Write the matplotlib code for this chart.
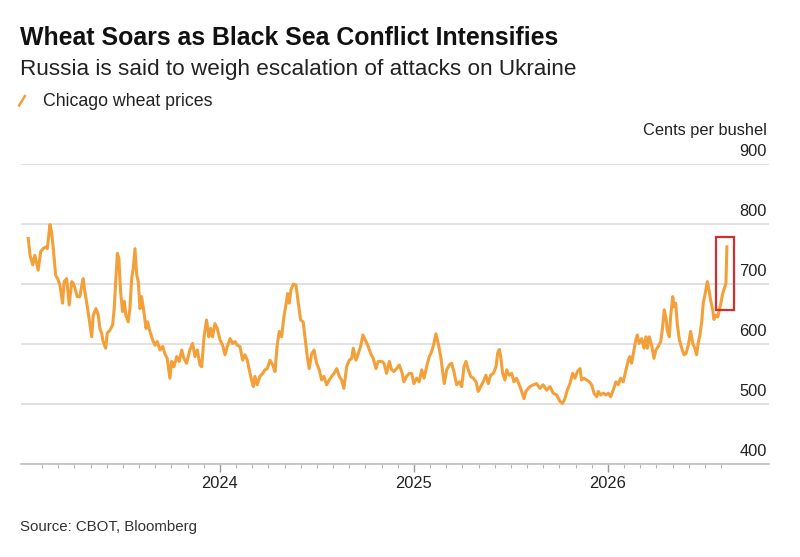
import matplotlib
matplotlib.use("Agg")
import matplotlib.pyplot as plt
from matplotlib.patches import Rectangle
from matplotlib.lines import Line2D
from matplotlib.transforms import blended_transform_factory, offset_copy

# ---- data (decimal year, cents per bushel) ----
d23 = [2023.012, 2023.021, 2023.035, 2023.046, 2023.063, 2023.076, 2023.089, 2023.103, 2023.110, 2023.124,
       2023.132, 2023.141, 2023.153, 2023.166, 2023.175, 2023.189, 2023.197, 2023.210, 2023.223, 2023.236,
       2023.244, 2023.253, 2023.264, 2023.278, 2023.287, 2023.295, 2023.304, 2023.318, 2023.330, 2023.339,
       2023.347, 2023.361, 2023.373, 2023.381, 2023.390, 2023.398, 2023.411, 2023.419, 2023.433, 2023.447,
       2023.455, 2023.464, 2023.471, 2023.479, 2023.488, 2023.498, 2023.507, 2023.515, 2023.527, 2023.536,
       2023.545, 2023.553, 2023.562, 2023.571, 2023.579, 2023.588, 2023.596, 2023.608, 2023.619, 2023.627,
       2023.639, 2023.653, 2023.665, 2023.677, 2023.691, 2023.705, 2023.716, 2023.728, 2023.742, 2023.751,
       2023.763, 2023.777, 2023.790, 2023.803, 2023.814, 2023.828, 2023.845, 2023.859, 2023.871, 2023.883,
       2023.897, 2023.906, 2023.918, 2023.931, 2023.943, 2023.952, 2023.962, 2023.974, 2023.986]
p23 = [776, 748, 732, 748, 723, 754, 759, 762, 759, 799,
       787, 759, 715, 707, 698, 668, 704, 709, 665, 704,
       701, 693, 679, 679, 696, 709, 687, 659, 632, 612,
       648, 659, 648, 626, 618, 604, 593, 618, 623, 632,
       659, 709, 751, 743, 687, 654, 671, 648, 637, 659,
       709, 726, 759, 715, 704, 659, 679, 654, 626, 637,
       621, 607, 598, 604, 590, 596, 584, 576, 543, 571,
       562, 579, 571, 590, 576, 568, 590, 601, 579, 590,
       565, 562, 612, 640, 612, 626, 612, 634, 626]

d24 = [2024.000, 2024.014, 2024.026, 2024.038, 2024.052, 2024.065, 2024.077, 2024.089, 2024.103, 2024.117,
       2024.129, 2024.141, 2024.151, 2024.163, 2024.172, 2024.180, 2024.192, 2024.206, 2024.220, 2024.232,
       2024.244, 2024.258, 2024.272, 2024.284, 2024.295, 2024.306, 2024.318, 2024.330, 2024.340, 2024.349,
       2024.357, 2024.366, 2024.378, 2024.392, 2024.404, 2024.416, 2024.429, 2024.438, 2024.450, 2024.460,
       2024.473, 2024.485, 2024.498, 2024.512, 2024.524, 2024.536, 2024.550, 2024.563, 2024.576, 2024.588,
       2024.602, 2024.615, 2024.627, 2024.639, 2024.653, 2024.666, 2024.679, 2024.687, 2024.701, 2024.713,
       2024.725, 2024.737, 2024.753, 2024.764, 2024.777, 2024.790, 2024.804, 2024.816, 2024.834, 2024.845,
       2024.859, 2024.873, 2024.885, 2024.897, 2024.911, 2024.924, 2024.937, 2024.948, 2024.962, 2024.976,
       2024.988]
p24 = [607, 598, 582, 596, 609, 601, 604, 598, 596, 573,
       582, 573, 557, 540, 529, 546, 532, 546, 551, 557,
       559, 573, 565, 554, 598, 621, 612, 646, 665, 684,
       668, 690, 700, 698, 668, 640, 637, 612, 579, 559,
       584, 590, 568, 557, 540, 546, 532, 540, 546, 551,
       559, 546, 540, 526, 562, 573, 576, 593, 573, 584,
       596, 615, 604, 596, 584, 576, 559, 571, 571, 568,
       551, 571, 557, 554, 559, 565, 554, 537, 546, 551,
       551]

d25 = [2025.000, 2025.014, 2025.027, 2025.040, 2025.052, 2025.065, 2025.079, 2025.091, 2025.103, 2025.113,
       2025.125, 2025.138, 2025.148, 2025.156, 2025.169, 2025.182, 2025.194, 2025.206, 2025.220, 2025.234,
       2025.246, 2025.258, 2025.268, 2025.280, 2025.292, 2025.306, 2025.320, 2025.331, 2025.344, 2025.357,
       2025.371, 2025.383, 2025.395, 2025.409, 2025.423, 2025.431, 2025.440, 2025.447, 2025.457, 2025.469,
       2025.478, 2025.491, 2025.504, 2025.515, 2025.529, 2025.543, 2025.555, 2025.567, 2025.577, 2025.589,
       2025.598, 2025.615, 2025.632, 2025.649, 2025.666, 2025.684, 2025.701, 2025.718, 2025.736, 2025.753,
       2025.766, 2025.778, 2025.790, 2025.804, 2025.818, 2025.830, 2025.842, 2025.856, 2025.864, 2025.876,
       2025.890, 2025.904, 2025.916, 2025.928, 2025.942, 2025.950, 2025.962, 2025.976, 2025.990]
p25 = [534, 543, 537, 557, 543, 562, 579, 587, 601, 617,
       601, 579, 554, 534, 557, 565, 568, 554, 532, 537,
       529, 562, 571, 557, 546, 543, 537, 521, 529, 537,
       548, 534, 548, 551, 562, 584, 591, 579, 551, 540,
       557, 548, 551, 537, 543, 532, 521, 509, 521, 526,
       529, 532, 534, 526, 532, 523, 529, 518, 515, 504,
       501, 509, 523, 534, 551, 543, 554, 559, 540, 543,
       540, 537, 532, 518, 512, 521, 515, 518, 515]

d26 = [2026.002, 2026.014, 2026.027, 2026.041, 2026.053, 2026.065, 2026.079, 2026.093, 2026.105, 2026.113,
       2026.122, 2026.134, 2026.144, 2026.151, 2026.161, 2026.174, 2026.186, 2026.196, 2026.203, 2026.213,
       2026.225, 2026.237, 2026.247, 2026.259, 2026.272, 2026.282, 2026.290, 2026.299, 2026.306, 2026.316,
       2026.323, 2026.334, 2026.340, 2026.349, 2026.357, 2026.368, 2026.380, 2026.392, 2026.402, 2026.414,
       2026.426, 2026.437, 2026.448, 2026.457, 2026.465, 2026.474, 2026.483, 2026.491, 2026.500, 2026.512,
       2026.521, 2026.529, 2026.540, 2026.546, 2026.557, 2026.566, 2026.574, 2026.582, 2026.591, 2026.600,
       2026.608, 2026.613]
p26 = [518, 512, 523, 537, 532, 543, 537, 557, 573, 579,
       568, 590, 607, 615, 601, 609, 593, 612, 593, 612,
       598, 576, 590, 596, 604, 629, 657, 643, 623, 612,
       646, 679, 662, 668, 634, 607, 593, 582, 584, 598,
       621, 601, 593, 582, 601, 615, 637, 668, 682, 704,
       690, 673, 657, 641, 648, 645, 657, 668, 684, 693,
       701, 762]

year_ticks = [2024, 2025, 2026]
year_labels = ["2024", "2025", "2026"]
price_ticks = [400, 500, 600, 700, 800, 900]

# highlight box around the latest spike
box_x = [2026.555, 2026.651]
box_y = [657, 778]

title = "Wheat Soars as Black Sea Conflict Intensifies"
subtitle = "Russia is said to weigh escalation of attacks on Ukraine"
legend_label = "Chicago wheat prices"
unit_label = "Cents per bushel"
source = "Source: CBOT, Bloomberg"

dates = d23 + d24 + d25 + d26
prices = p23 + p24 + p25 + p26

# ---- style ----
plt.rcParams["font.family"] = ["Liberation Sans", "DejaVu Sans"]
W, H = 800, 557
ORANGE = "#f4a03a"
GRID = "#d9d9d9"
TXT = "#222222"

fig = plt.figure(figsize=(W / 100, H / 100), dpi=100)
fig.patch.set_facecolor("white")

ax_l, ax_r, ax_b, ax_t = 20.5, 769, 464, 164
ax = fig.add_axes([ax_l / W, 1 - ax_b / H, (ax_r - ax_l) / W, (ax_b - ax_t) / H])
ax.set_facecolor("white")

ax.plot(dates, prices, color=ORANGE, lw=2.2, solid_joinstyle="round", zorder=3)

ax.set_xlim(2022.972, 2026.830)
ax.set_ylim(400, 900)

for s in ["top", "left", "right"]:
    ax.spines[s].set_visible(False)
ax.spines["bottom"].set_color("#c4c4c4")
ax.spines["bottom"].set_linewidth(1.3)

ax.set_yticks(price_ticks)
ax.yaxis.grid(True, color=GRID, lw=1.1)
ax.tick_params(axis="y", length=0, labelleft=False, labelright=False)

minor = [2023 + k / 12 for k in range(1, 44) if k % 12 != 0]
ax.set_xticks(year_ticks)
ax.set_xticklabels(year_labels)
ax.set_xticks(minor, minor=True)
ax.tick_params(axis="x", which="major", length=5.5, width=1.0, color="#9a9a9a",
               labelsize=11.8, labelcolor=TXT, pad=3)
ax.tick_params(axis="x", which="minor", length=2.8, width=0.8, color="#b5b5b5")

# right-side price labels above the gridlines
trans = blended_transform_factory(ax.transAxes, ax.transData)
trans = offset_copy(trans, fig=fig, x=-2, y=8, units="dots")
for v in price_ticks:
    ax.text(1.0, v, str(v), transform=trans, ha="right", va="baseline",
            fontsize=11.8, color=TXT)

ax.add_patch(Rectangle((box_x[0], box_y[0]), box_x[1] - box_x[0], box_y[1] - box_y[0],
                       fill=False, edgecolor="#d22f2f", lw=1.6, zorder=4))

# ---- texts ----
def fy(y):
    return 1 - y / H

fig.text(20 / W, fy(45), title, fontsize=17.9, fontweight="bold", color="#111111", va="baseline")
fig.text(20 / W, fy(75), subtitle, fontsize=16.2, color=TXT, va="baseline")
fig.add_artist(Line2D([18.5 / W, 25.5 / W], [fy(106.5), fy(95)], color=ORANGE, lw=1.8,
                      solid_capstyle="butt", transform=fig.transFigure))
fig.text(43 / W, fy(106), legend_label, fontsize=12.8, color=TXT, va="baseline")
fig.text(767 / W, fy(135), unit_label, fontsize=11.8, color=TXT, ha="right", va="baseline")
fig.text(20 / W, fy(531), source, fontsize=10.8, color="#333333", va="baseline")

fig.savefig("out.png", dpi=100, facecolor="white")
